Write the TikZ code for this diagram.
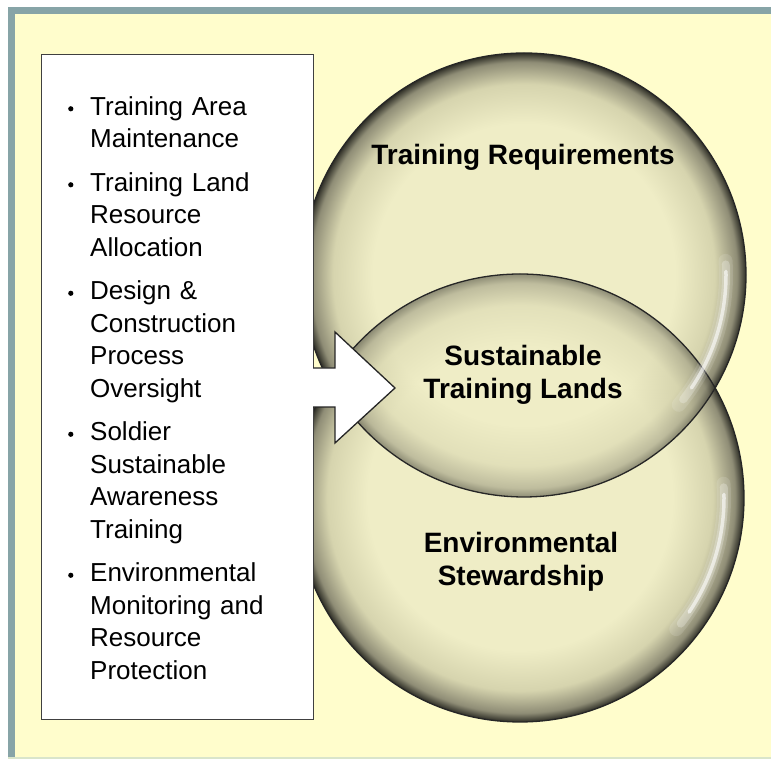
\documentclass[tikz,border=0pt]{standalone}
\usepackage{fontspec}
\setmainfont{Liberation Sans}
\usetikzlibrary{positioning}

\definecolor{paperyellow}{HTML}{FFFDCC}
\definecolor{frameteal}{HTML}{87A4A7}
\definecolor{footline}{HTML}{D9E5CB}
\definecolor{ballin}{HTML}{EFEDC6}
\definecolor{ballmid}{HTML}{D6D4AE}
\definecolor{ballrim}{HTML}{8F8D76}
\definecolor{balledge}{HTML}{2E2E26}

\pgfdeclareradialshading{glassball}{\pgfpoint{0bp}{0bp}}{%
  color(0bp)=(ballin); color(17bp)=(ballin); color(21.5bp)=(ballmid);
  color(24bp)=(ballrim); color(25bp)=(balledge); color(50bp)=(balledge)}

\newcommand{\listitem}[1]{\noindent\hspace*{-24pt}%
  \makebox[24pt][l]{\hspace*{2pt}\raisebox{3.8pt}{\tikz\fill (0,0) circle (2.6pt);}}#1\par}

\tikzset{
  glass/.style={shading=glassball},
  rimline/.style={draw=black!85, line width=1.3pt},
  shine/.style={white, line cap=round},
  ringlabel/.style={font=\fontsize{28}{32.5}\selectfont\bfseries, align=center, text=black},
  taskbox/.style={draw=black!75, line width=1.3pt, fill=white, inner sep=0pt},
  tasklist/.style={anchor=north west, inner sep=0pt, text width=235pt, align=left,
    font=\fontsize{26}{32.5}\selectfont},
  blockarrow/.style={draw=black!85, line width=1.3pt, line join=miter},
}

\begin{document}
\begin{tikzpicture}[x=1pt, y=1pt]
\useasboundingbox (0,0) rectangle (771,759);

% page and frame
\fill[white] (0,0) rectangle (771,759);
\fill[paperyellow] (15,2) rectangle (771,745);
\fill[frameteal] (8,2) rectangle (15,752);
\fill[frameteal] (8,745) rectangle (771,752);
\fill[footline] (8,0) rectangle (771,2);

\coordinate (reqc) at (524,484);
\coordinate (envc) at (520,261);

% the two glass circles
\shade[glass] (reqc) circle (222pt);
\shade[glass] (envc) circle (224pt);
\begin{scope}
  \clip (envc) circle (224pt);
  \shade[glass, fill opacity=.5] (reqc) circle (222pt);
\end{scope}
\draw[rimline] (reqc) circle (222pt);
\draw[rimline] (envc) circle (224pt);

% glossy highlights
\foreach \c/\r in {reqc/202, envc/204} {
  \draw[shine, line width=14pt, opacity=.12]
    ([shift={(4:\r pt)}]\c) arc[start angle=4, end angle=-40, radius=\r pt];
  \draw[shine, line width=8pt, opacity=.25]
    ([shift={(3:\r pt)}]\c) arc[start angle=3, end angle=-38, radius=\r pt];
  \draw[shine, line width=3.5pt, opacity=.6]
    ([shift={(1:\r pt)}]\c) arc[start angle=1, end angle=-34, radius=\r pt];
}

\node[ringlabel] (reqlabel) at (523,602) {Training Requirements};
\node[ringlabel] (landslabel) at (523,384) {Sustainable\\Training Lands};
\node[ringlabel] (stewlabel) at (521,197) {Environmental\\Stewardship};

% task box
\node[taskbox, anchor=south west, minimum width=272pt, minimum height=665pt]
  (taskframe) at (41,39) {};
\node[tasklist] (tasks) at (66,666.75) {\setlength{\parskip}{11pt}%
  \setlength{\leftskip}{24pt}%
  \listitem{\strut Training Area\\Maintenance}
  \listitem{Training Land\\Resource\\Allocation}
  \listitem{Design \&\\Construction\\Process\\Oversight}
  \listitem{Soldier\\Sustainable\\Awareness\\Training}
  \listitem{Environmental\\Monitoring and\\Resource\\Protection}};

% block arrow
\fill[white] (311,391) -- (335,391) -- (335,427) -- (395,371) -- (335,316)
  -- (335,352) -- (311,352) -- cycle;
\draw[blockarrow] (313,391) -- (335,391) -- (335,427) -- (395,371) -- (335,316)
  -- (335,352) -- (313,352);

\end{tikzpicture}
\end{document}
